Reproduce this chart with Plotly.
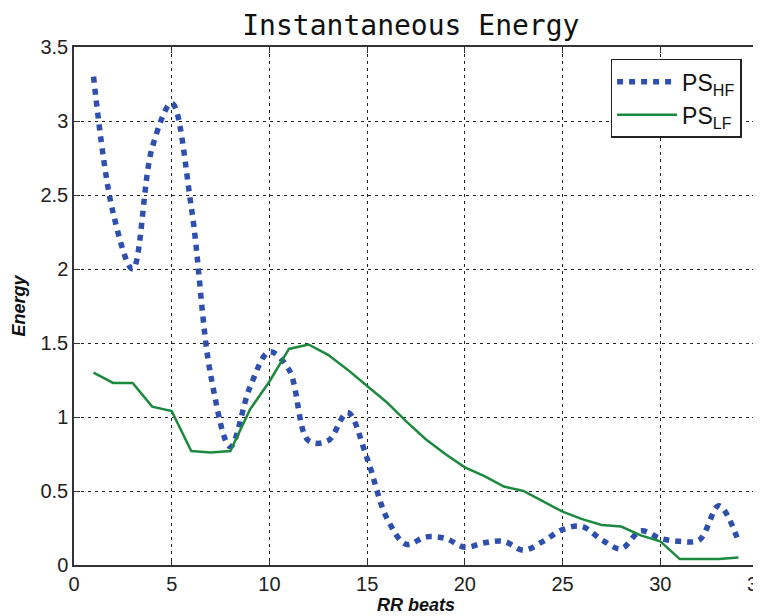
import plotly.graph_objects as go

beats = list(range(1, 35))
ps_hf = [3.30, 2.38, 2.00, 2.82, 3.12, 2.42, 1.28, 0.80, 1.20, 1.44,
         1.32, 0.84, 0.84, 1.03, 0.72, 0.32, 0.14, 0.19, 0.18, 0.12,
         0.15, 0.16, 0.10, 0.16, 0.24, 0.26, 0.17, 0.11, 0.23, 0.18,
         0.16, 0.17, 0.40, 0.16]
ps_lf = [1.30, 1.23, 1.23, 1.07, 1.04, 0.77, 0.76, 0.77, 1.05, 1.24,
         1.46, 1.49, 1.42, 1.32, 1.21, 1.10, 0.97, 0.85, 0.75, 0.66,
         0.60, 0.53, 0.50, 0.43, 0.36, 0.31, 0.27, 0.26, 0.20, 0.16,
         0.04, 0.04, 0.04, 0.05]
x_ticks = [0, 5, 10, 15, 20, 25, 30, 35]
y_ticks = [0, 0.5, 1, 1.5, 2, 2.5, 3, 3.5]
y_tick_text = ["0", "0.5", "1", "1.5", "2", "2.5", "3", "3.5"]

fig = go.Figure()
fig.add_trace(go.Scatter(
    x=beats, y=ps_hf, mode="lines", name="PS<sub>HF</sub>",
    line=dict(color="#2E4FAD", width=5.5, dash="6px,6px", shape="spline", smoothing=1.0),
))
fig.add_trace(go.Scatter(
    x=beats, y=ps_lf, mode="lines", name="PS<sub>LF</sub>",
    line=dict(color="#1C8A3E", width=2.5),
))

axis_common = dict(
    showline=True, linecolor="#333333", linewidth=1.5, mirror="ticks",
    ticks="inside", ticklen=6, tickcolor="#333333",
    showgrid=True, gridcolor="#222222", griddash="3px,4px", gridwidth=1,
    zeroline=False, automargin=False, ticklabeloverflow="allow",
    tickfont=dict(family="Liberation Sans", size=20, color="#222222"),
)

fig.update_layout(
    width=753, height=608,
    margin=dict(l=66, r=3, t=39, b=51),
    paper_bgcolor="white", plot_bgcolor="white",
    title=dict(text="Instantaneous Energy", x=0.535, xanchor="center", y=0.972, yanchor="middle",
               font=dict(family="DejaVu Sans Mono", size=28, color="#111111")),
    xaxis=dict(range=[0, 35], tickvals=x_ticks,
               title=dict(text="<b><i>RR beats</i></b>", standoff=3,
                          font=dict(family="Liberation Sans", size=18, color="#111111")),
               **axis_common),
    yaxis=dict(range=[0, 3.5], tickvals=y_ticks, ticktext=y_tick_text,
               title=dict(text="<b><i>Energy</i></b>", standoff=10,
                          font=dict(family="Liberation Sans", size=18, color="#111111")),
               **axis_common),
    legend=dict(x=0.976, y=0.977, xanchor="right", yanchor="top",
                bgcolor="white", bordercolor="#222222", borderwidth=1.5,
                font=dict(family="Liberation Sans", size=23, color="#111111"),
                itemwidth=60),
    showlegend=True,
)

fig.write_html("out.html")
